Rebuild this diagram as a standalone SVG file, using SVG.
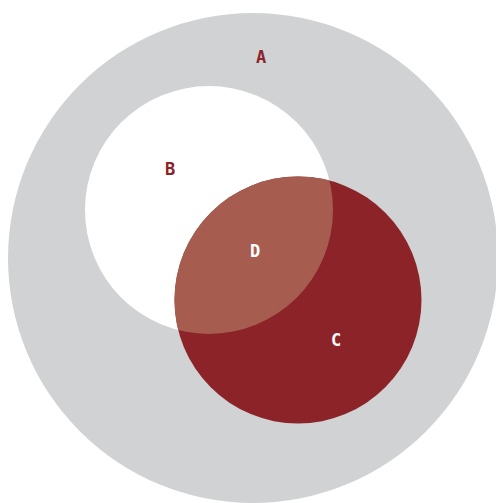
<svg xmlns="http://www.w3.org/2000/svg" width="496" height="503" viewBox="0 0 496 503">
<defs>
<style>
.lbl{font-family:"DejaVu Sans Mono",monospace;font-weight:bold;font-size:17px;text-anchor:middle}
.red{fill:#8B2329}
.wht{fill:#FFFFFF}
</style>
<clipPath id="clipB"><circle cx="209" cy="210" r="124"/></clipPath>
</defs>
<rect width="496" height="503" fill="#FFFFFF"/>
<g id="A"><circle cx="253" cy="258" r="245" fill="#D1D2D4"/><text class="lbl red" x="261" y="63">A</text></g>
<g id="B"><circle cx="209" cy="210" r="124" fill="#FFFFFF"/><text class="lbl red" x="170" y="175">B</text></g>
<g id="C"><circle cx="298" cy="300" r="123.5" fill="#8B2329"/><text class="lbl wht" x="336" y="346">C</text></g>
<g id="D"><circle cx="298" cy="300" r="123.5" fill="#A65D50" clip-path="url(#clipB)"/><text class="lbl wht" x="255" y="257">D</text></g>
<g id="connectors"/>
</svg>
